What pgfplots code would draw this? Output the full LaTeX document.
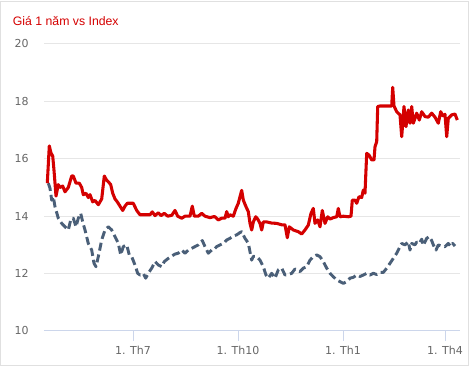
\documentclass[border=0pt]{standalone}
\usepackage{fontspec}
\setmainfont{Liberation Sans}
\newfontfamily\dejavu{DejaVu Sans}
\usepackage{pgfplots}
\pgfplotsset{compat=1.18}
\definecolor{redline}{HTML}{D40000}
\definecolor{idxline}{HTML}{4A5F78}
\definecolor{gridc}{HTML}{E6E6E6}
\definecolor{axisc}{HTML}{CCD6EB}
\definecolor{labc}{HTML}{666666}
\definecolor{framec}{HTML}{E0E0E0}
\begin{document}
\begin{tikzpicture}
\useasboundingbox (-33pt,-31.5pt) rectangle (322.5pt,248.25pt);
\draw[framec, line width=0.75pt] (-32.25pt,-26.25pt) rectangle (318pt,247.1pt);
\node[anchor=west, inner sep=0pt, text=redline, font=\fontsize{9.2pt}{11pt}\selectfont] at (-23.5pt,232.5pt) {Giá 1 năm vs Index};
\begin{axis}[
  at={(0,0)}, anchor=south west,
  scale only axis, width=312pt, height=215.25pt,
  xmin=44, xmax=460, ymin=10, ymax=20,
  axis x line*=bottom, axis y line*=left,
  x axis line style={draw=axisc, line width=0.75pt, -},
  y axis line style={draw=none},
  ytick={10,12,14,16,18,20},
  xtick={133,238,343,445},
  xticklabels={1. Th7, 1. Th10, 1. Th1, 1. Th4},
  ymajorgrids, major grid style={draw=gridc, line width=0.75pt},
  tick align=outside, major tick length=7.5pt,
  xtick style={draw=axisc, line width=0.75pt},
  ytick style={draw=none},
  /pgf/number format/assume math mode=true,
  tick label style={font=\dejavu\fontsize{8.25pt}{10pt}\selectfont, text=labc},
  yticklabel style={anchor=east, xshift=-0.5pt},
  xticklabel style={yshift=0pt},
  clip=false,
]
\addplot[idxline, line width=2.2pt, dash pattern=on 6pt off 3pt, line join=round] coordinates {
(48.3,15.15)(50,14.97)(51.7,14.56)(53.3,14.68)(55,14.33)(58.3,13.93)(61.7,13.75)(65,13.63)(68.3,13.52)(70.7,13.87)(73.3,13.93)(76,13.63)(78.3,13.93)(80.7,14.1)(82.7,13.8)(85,13.52)(88.3,13.05)(91.7,12.82)(94,12.36)(96,12.24)(98.3,12.59)(101.7,13.17)(105,13.52)(108.3,13.63)(111.7,13.52)(115,13.29)(118.3,13.06)(120.7,12.65)(123.3,12.94)(126.7,13.0)(129.3,12.65)(131.7,12.59)(135,12.3)(137.7,12.01)(140,11.95)(143.3,12.0)(145.7,11.84)(148.3,12.01)(151.7,12.19)(155,12.42)(158.3,12.3)(161.7,12.24)(164.3,12.42)(168.3,12.53)(171.7,12.61)(175,12.68)(178.3,12.71)(181.7,12.82)(185,12.71)(188.3,12.82)(191.7,12.88)(195,12.94)(198.3,13.0)(202.3,13.15)(205,12.94)(208.3,12.71)(211.7,12.82)(213.3,12.82)(216.7,12.94)(220,13.0)(223.3,13.05)(226.7,13.17)(230,13.23)(233.3,13.31)(236.7,13.35)(240,13.43)(241.7,13.46)(245,13.23)(248.3,13.06)(250,12.76)(251.7,12.47)(253.3,12.6)(256.7,12.59)(260,12.47)(263.3,12.24)(266,11.95)(268.3,11.84)(271.7,12.01)(275,11.84)(278.3,12.13)(281.7,12.19)(285,11.95)(288.3,11.97)(291.7,12.01)(295,12.16)(300,12.07)(303.3,12.19)(306.7,12.24)(310,12.47)(313.3,12.59)(316.7,12.65)(320,12.59)(323.3,12.42)(326.7,12.19)(330,12.01)(333.3,11.89)(336.7,11.78)(340,11.72)(343.3,11.66)(346.7,11.72)(350,11.84)(353.3,11.87)(356.7,11.95)(360,11.9)(363.3,11.95)(366.7,12.01)(370,11.95)(373.3,12.01)(376.7,11.97)(380,12.04)(383.3,12.04)(386.7,12.19)(390,12.36)(393.3,12.53)(396.7,12.71)(400,12.94)(401.7,13.05)(405,13.0)(408.3,13.11)(410,12.82)(411.7,13.05)(415,13.0)(416.7,13.1)(419.3,13.05)(421.7,13.2)(423.3,12.98)(426.7,13.23)(429.3,13.29)(431.7,13.15)(433.3,13.0)(436,12.82)(438.3,13.0)(441.7,12.95)(445,12.94)(448.3,13.05)(450.7,12.95)(452.7,13.05)(455,12.96)
};
\addplot[redline, line width=2.3pt, line join=round] coordinates {
(47.3,15.15)(49.3,16.45)(51,16.2)(52.7,16.1)(54,15.6)(56,14.7)(58.3,15.1)(60,15.0)(62.7,15.05)(65,14.85)(68.3,15.0)(71.7,15.4)(73.3,15.4)(76,15.15)(79.3,15.15)(81.7,15.0)(83.3,14.75)(86,14.8)(88.3,14.65)(90,14.75)(92.7,14.5)(95,14.55)(98.3,14.4)(101.7,14.6)(104.3,15.4)(106.7,15.25)(108.3,15.2)(110.7,15.1)(112.7,14.8)(115,14.6)(117.3,14.5)(120,14.35)(122.7,14.2)(125,14.35)(127.3,14.45)(130,14.45)(133.3,14.45)(136.7,14.2)(140,14.05)(145,14.05)(150,14.05)(152.3,14.15)(155,14.02)(158.3,14.12)(161,14.02)(164.3,14.1)(167.7,14.0)(171.7,14.03)(175,14.2)(177.7,14.0)(181.7,13.93)(185,14.0)(190,14.0)(192.3,14.35)(194.3,14.0)(198.3,14.0)(201.7,14.1)(205,14.0)(210,13.95)(213.3,13.98)(215,13.98)(218.3,13.87)(221.7,13.93)(225,13.93)(226.7,14.16)(228.3,13.98)(230,14.05)(233.3,14.0)(236,14.27)(238.3,14.45)(240,14.68)(241.7,14.9)(243.3,14.56)(246,14.33)(248.3,14.16)(250,13.75)(251.7,13.52)(253.3,13.8)(255.7,13.98)(257.7,13.9)(260,13.75)(261.7,13.52)(263.3,13.8)(266.7,13.8)(271.7,13.76)(276.7,13.75)(281.7,13.7)(285,13.7)(287.3,13.25)(289.3,13.63)(293.3,13.52)(298.3,13.46)(301.7,13.38)(305,13.52)(308.3,13.69)(311,14.1)(313.3,14.27)(315,13.75)(317.7,13.87)(320,13.63)(322.3,14.2)(325,13.75)(327.7,13.98)(330,13.9)(333.3,13.95)(336.7,13.98)(338.3,14.27)(340,13.98)(343.3,14.0)(348.3,13.98)(351,14.0)(352.3,14.56)(355,14.56)(356.7,14.45)(359,14.68)(361.7,14.65)(363.3,14.91)(365,14.8)(365.7,15.38)(366.7,16.19)(369,16.13)(371.7,15.96)(374,15.96)(375,16.42)(376.7,16.6)(377.7,17.82)(380,17.84)(391.7,17.84)(392.7,18.49)(394,17.84)(396.7,17.64)(400,17.53)(401.7,16.77)(404,17.82)(406,17.12)(408.3,17.7)(410,17.24)(411.7,17.82)(413.3,17.24)(416.7,17.59)(419.3,17.35)(421.7,17.64)(425,17.47)(428.3,17.45)(431.7,17.59)(435,17.45)(438.3,17.24)(440.7,17.64)(442.7,17.5)(445,17.55)(446.7,16.77)(448.3,17.41)(451.7,17.53)(455,17.56)(457.3,17.35)
};
\end{axis}
\end{tikzpicture}
\end{document}
